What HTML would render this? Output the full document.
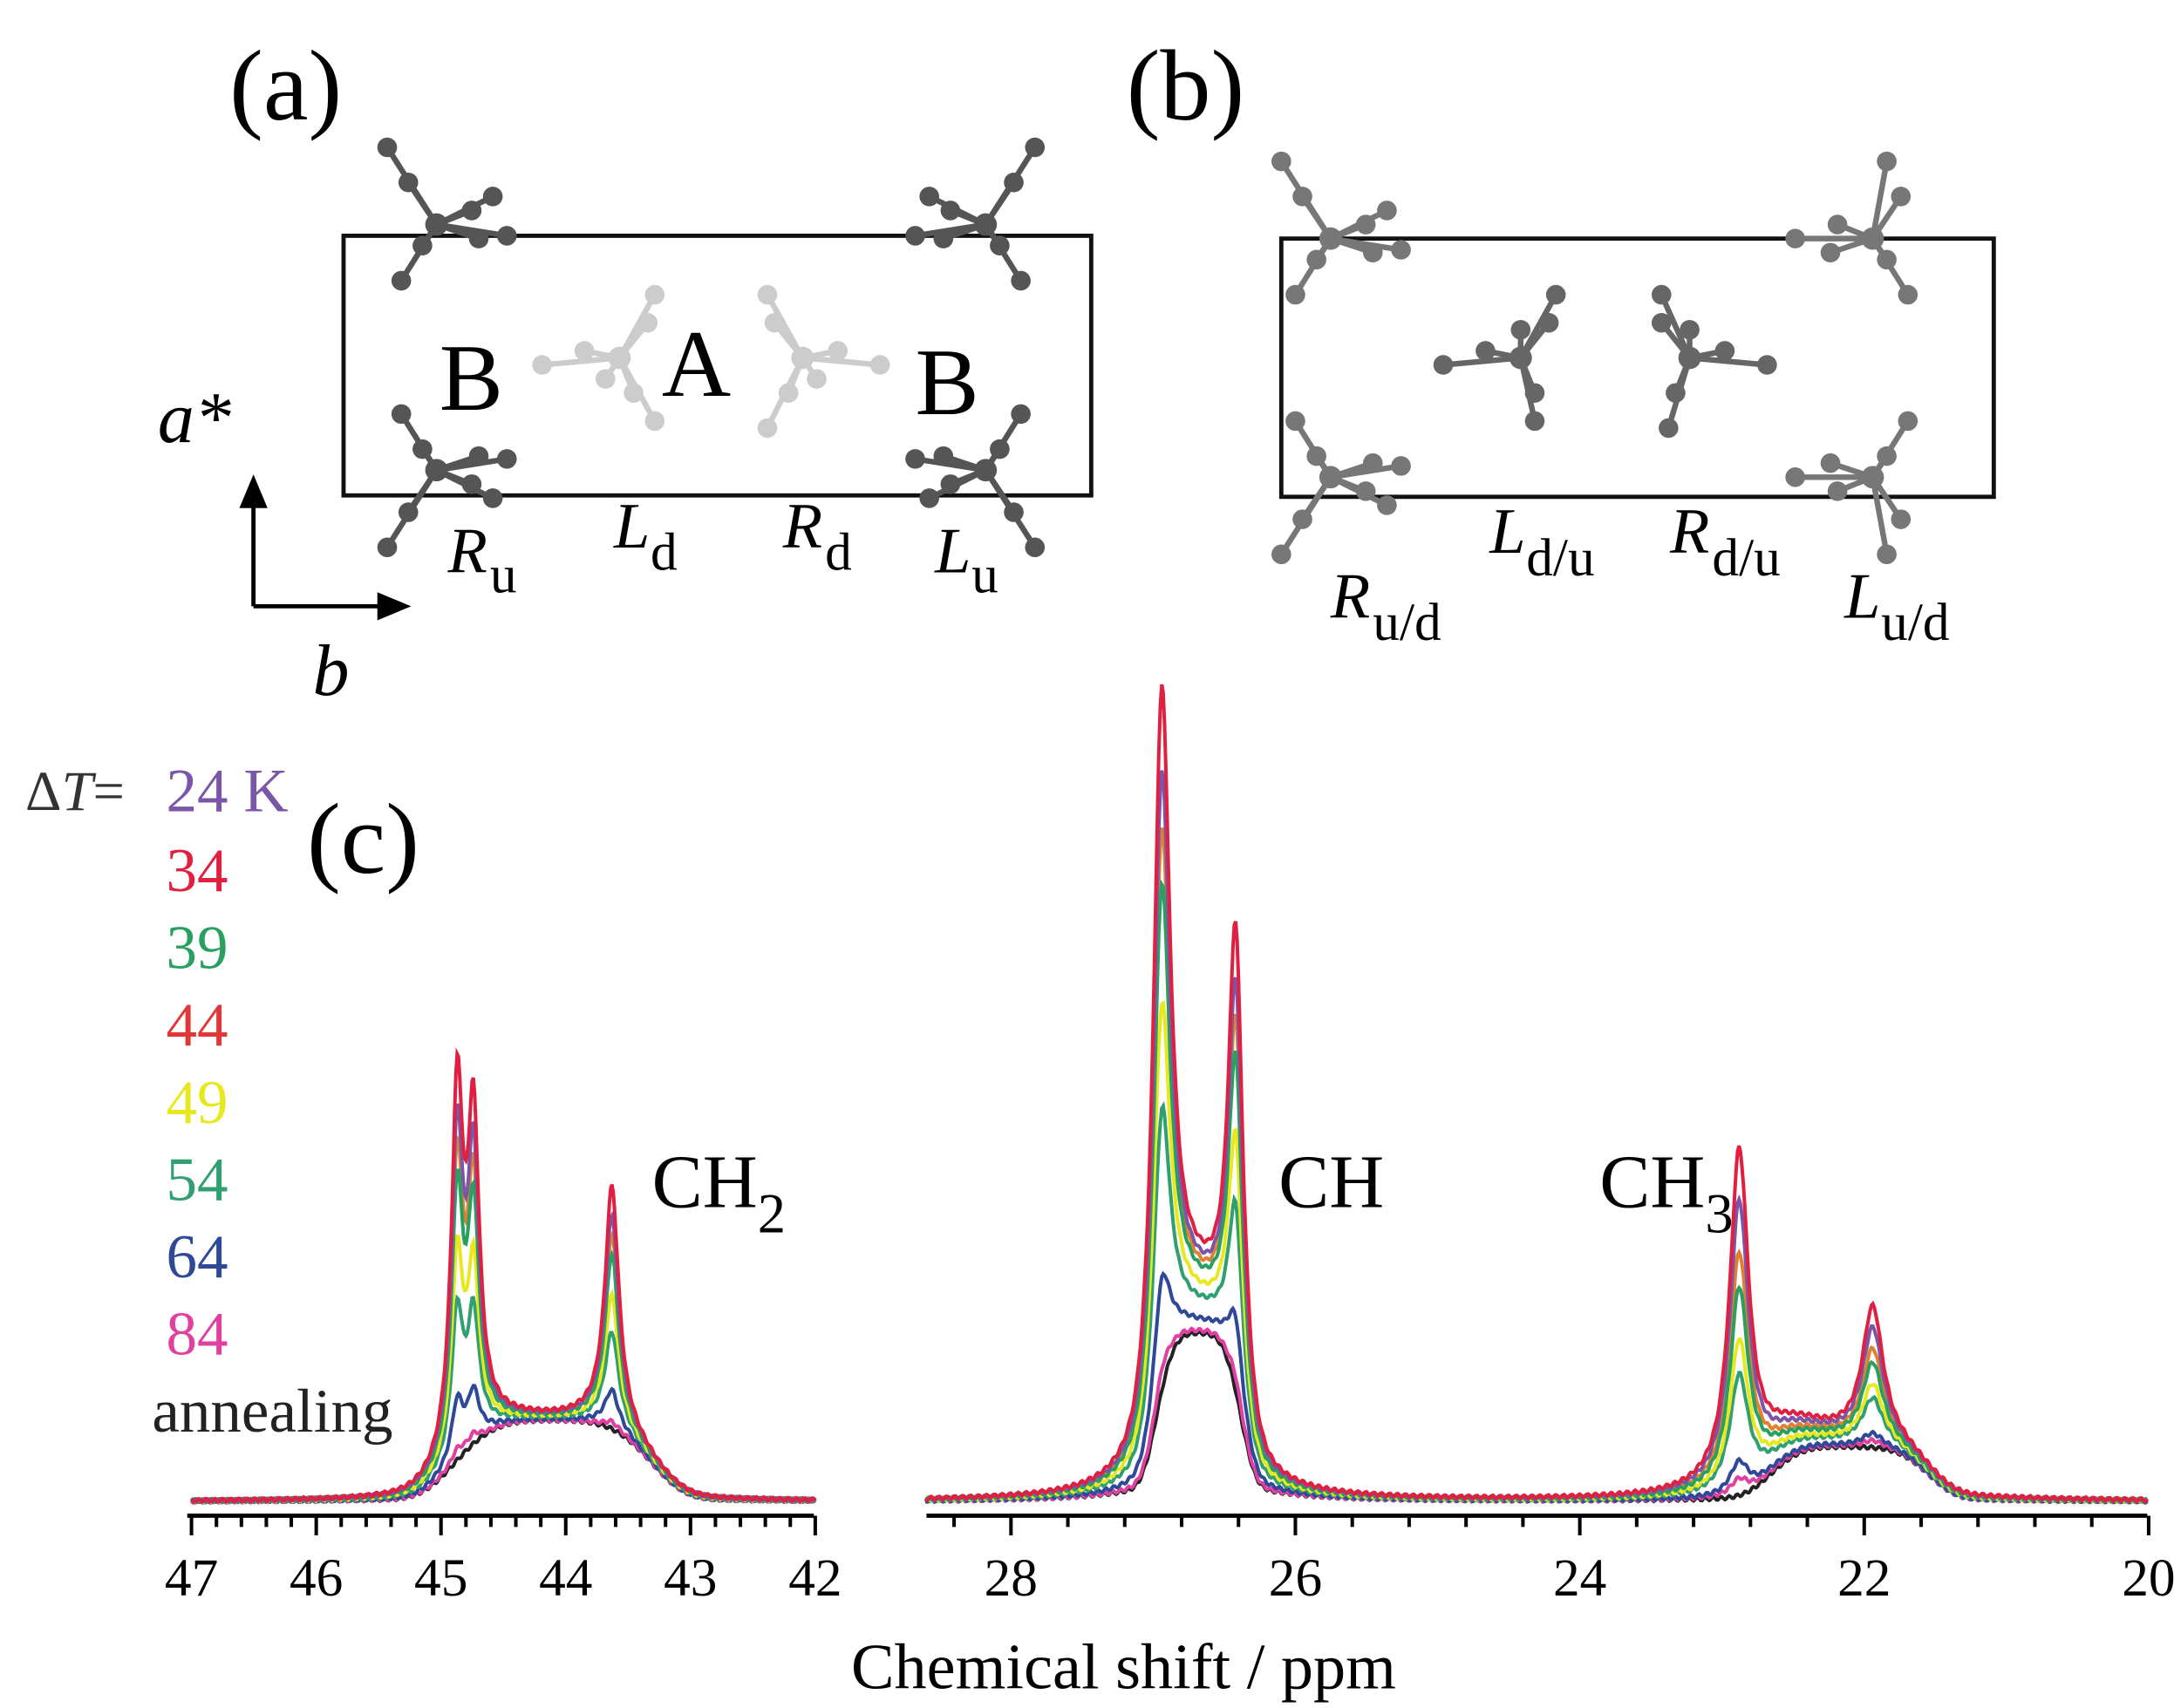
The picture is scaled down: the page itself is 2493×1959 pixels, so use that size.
<!DOCTYPE html>
<html><head><meta charset="utf-8"><style>
html,body{margin:0;padding:0;background:#fff;}
svg{display:block}
text{font-family:"Liberation Serif",serif;}
</style></head><body>
<svg id="s" width="2493" height="1959" viewBox="0 0 1544 1217" preserveAspectRatio="none" xmlns="http://www.w3.org/2000/svg">
<rect width="1544" height="1217" fill="#fff"/>
<text x="163" y="85" font-size="72">(a)</text>
<text x="800" y="85" font-size="72">(b)</text>
<rect x="244" y="168" width="531" height="185" fill="none" stroke="#111" stroke-width="3"/>
<rect x="910" y="170" width="506" height="184" fill="none" stroke="#111" stroke-width="3"/>
<g id="mol"></g>
<text x="312" y="292" font-size="68">B</text>
<text x="470" y="282" font-size="68">A</text>
<text x="650" y="295" font-size="68">B</text>
<text x="112" y="315" font-size="52" font-style="italic">a*</text>
<path d="M180 432 V360 M180 432 H270" stroke="#000" stroke-width="3" fill="none"/>
<path d="M170 362 L180 338 L190 362Z M268 422 L292 432 L268 442Z" fill="#000"/>
<text x="222" y="495" font-size="52" font-style="italic">b</text>
<g font-size="46">
<text x="318" y="408" font-style="italic">R</text><text x="348" y="422" font-size="38">u</text>
<text x="436" y="390" font-style="italic">L</text><text x="462" y="406" font-size="38">d</text>
<text x="556" y="390" font-style="italic">R</text><text x="586" y="406" font-size="38">d</text>
<text x="664" y="408" font-style="italic">L</text><text x="690" y="422" font-size="38">u</text>
<text x="945" y="440" font-style="italic">R</text><text x="975" y="456" font-size="38">u/d</text>
<text x="1058" y="394" font-style="italic">L</text><text x="1084" y="410" font-size="38">d/u</text>
<text x="1186" y="394" font-style="italic">R</text><text x="1216" y="410" font-size="38">d/u</text>
<text x="1310" y="440" font-style="italic">L</text><text x="1336" y="456" font-size="38">u/d</text>
</g>
<text x="18" y="577" font-size="40" fill="#333">Δ<tspan font-style="italic">T</tspan>=</text>
<g font-size="44">
<text x="118" y="578" fill="#7a55a8">24 K</text>
<text x="118" y="635" fill="#e02040">34</text>
<text x="118" y="690" fill="#2aa060">39</text>
<text x="118" y="745" fill="#e03838">44</text>
<text x="118" y="800" fill="#e8e820">49</text>
<text x="118" y="855" fill="#30a070">54</text>
<text x="118" y="910" fill="#304898">64</text>
<text x="118" y="965" fill="#e040a0">84</text>
<text x="108" y="1020" fill="#222">annealing</text>
</g>
<text x="218" y="622" font-size="72">(c)</text>
<text x="463" y="860" font-size="54">CH<tspan font-size="40" dy="18">2</tspan></text>
<text x="908" y="860" font-size="54">CH</text>
<text x="1136" y="860" font-size="54">CH<tspan font-size="40" dy="18">3</tspan></text>
<g id="axes" stroke="#000" stroke-width="3" fill="none"></g>
<g id="labs" font-size="38" text-anchor="middle"></g>
<g id="spec" fill="none" stroke-width="2.5"></g>
<text x="798" y="1203" font-size="46" text-anchor="middle">Chemical shift / ppm</text>
</svg>
<script>
var NS="http://www.w3.org/2000/svg";
function el(p,t,a,txt){var e=document.createElementNS(NS,t);for(var k in a)e.setAttribute(k,a[k]);if(txt)e.textContent=txt;document.getElementById(p).appendChild(e);return e;}
function mol(cx,cy,col,pts){pts.forEach(function(p){el("mol","line",{x1:cx,y1:cy,x2:cx+p[0],y2:cy+p[1],stroke:col,"stroke-width":4});});
pts.forEach(function(p){el("mol","circle",{cx:cx+p[0],cy:cy+p[1],r:7,fill:col});});el("mol","circle",{cx:cx,cy:cy,r:8,fill:col});}
var A=[[-20,-30],[-35,-55],[25,-10],[40,-20],[-10,15],[-25,40],[30,10],[50,8]];
var B=[[-20,30],[-35,55],[25,10],[40,20],[-10,-15],[-25,-40],[30,-10],[50,-8]];
mol(310,160,"#555",A);mol(310,335,"#555",B);mol(700,160,"#555",[[20,-30],[35,-55],[-25,-10],[-40,-20],[10,15],[25,40],[-30,10],[-50,8]]);
mol(700,335,"#555",[[20,30],[35,55],[-25,10],[-40,20],[10,-15],[25,-40],[-30,-10],[-50,-8]]);
mol(440,255,"#ccc",[[-55,5],[-25,-5],[20,-25],[25,-45],[10,25],[25,45],[-10,15]]);
mol(570,255,"#ccc",[[55,5],[25,-5],[-20,-25],[-25,-45],[-10,25],[-25,50],[10,15]]);
mol(945,170,"#777",A);mol(945,340,"#777",B);mol(1330,170,"#777",[[20,-30],[10,-55],[-25,-10],[-55,0],[10,15],[25,40],[-30,10]]);
mol(1330,340,"#777",[[20,30],[10,55],[-25,10],[-55,0],[10,-15],[25,-40],[-30,-10]]);
mol(1080,255,"#666",[[-55,5],[-25,-5],[20,-25],[25,-45],[10,25],[10,45],[0,-20]]);
mol(1200,255,"#666",[[55,5],[25,-5],[-20,-25],[-20,-45],[-10,25],[-15,50],[0,-20]]);
function xL(p){return 136+(47-p)*88.6;}
function xR(p){return 718+(28-p)*101;}
var ay=1080;
el("axes","line",{x1:133,y1:ay,x2:578,y2:ay});
el("axes","line",{x1:658,y1:ay,x2:1525,y2:ay});
for(var i=0;i<=25;i++){var p=47-i*0.2;var x=xL(p);var maj=i%5==0;el("axes","line",{x1:x,y1:ay,x2:x,y2:ay+(maj?14:8),"stroke-width":2.5});if(maj)el("labs","text",{x:x,y:1137},String(Math.round(p)));}
for(var i=-1;i<=20;i++){var p=28-i*0.4;var x=xR(p);var maj=i%5==0;el("axes","line",{x1:x,y1:ay,x2:x,y2:ay+(maj?14:8),"stroke-width":2.5});if(maj)el("labs","text",{x:x,y:1137},String(Math.round(p)));}
function L(x,c,w){var d=(x-c)/w;return 1/(1+d*d);}
function SG(x,c,w){var d=(x-c)/w;return Math.exp(-d*d*d*d);}
var S=[["#222",0,0],["#e040a0",0.03,0.05],["#304898",0.16,0.1],["#30a070",0.4,0.35],["#e8e820",0.55,0.45],["#e08030",0.8,0.7],["#2aa060",0.72,0.6],["#7a55a8",0.88,0.85],["#e02040",1,1]];
var base=1070;
S.forEach(function(s){var f=s[1],g=s[2],d="";
for(var p=47;p>=42;p-=0.01){var h=52*SG(p,44.1,0.85)+6*L(p,44.1,0.8)+f*(240*L(p,44.87,0.055)+205*L(p,44.74,0.055)+160*L(p,43.63,0.065)+20*L(p,44.8,0.15)+12*L(p,43.63,0.15));
var y=base-h+Math.sin(p*97+f*13)*1.2;d+=(d?"L":"M")+xL(p).toFixed(1)+" "+y.toFixed(1);}
el("spec","path",{d:d,stroke:s[0]});
d="";
for(var p=28.6;p>=20;p-=0.01){var h=100*SG(p,26.68,0.32)+20*L(p,26.68,0.4)+f*(490*L(p,26.94,0.07)+320*L(p,26.42,0.06)+20*L(p,26.7,0.2))
+35*SG(p,22.1,0.6)+4*L(p,22.2,0.8)+g*(235*L(p,22.88,0.08)+95*L(p,21.94,0.09)+20*L(p,22.6,0.35));
var y=base-h+Math.sin(p*113+f*7)*1.2;d+=(d?"L":"M")+xR(p).toFixed(1)+" "+y.toFixed(1);}
el("spec","path",{d:d,stroke:s[0]});
});
</script>
</body></html>
